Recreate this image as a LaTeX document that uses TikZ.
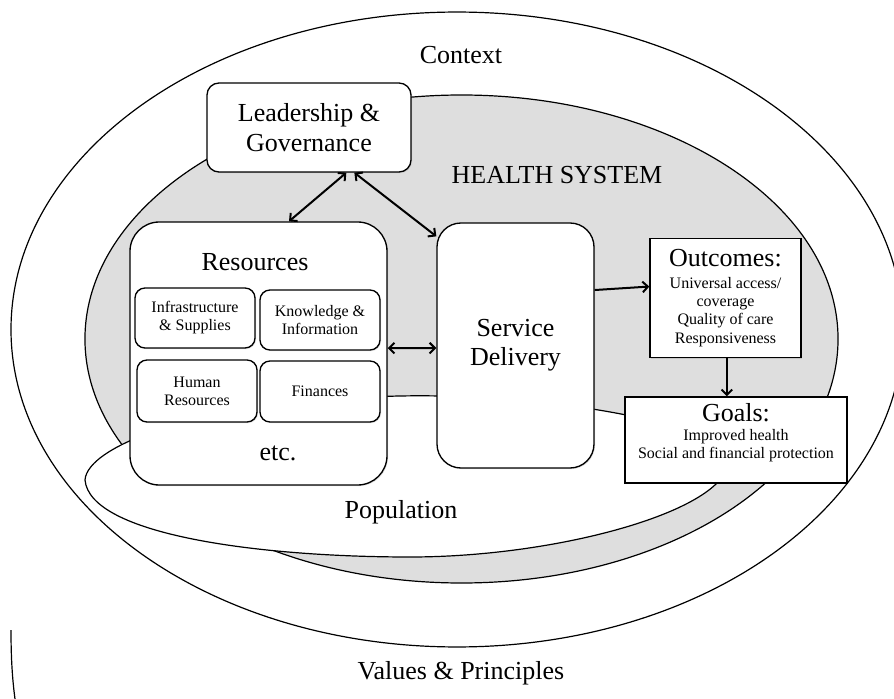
\documentclass[tikz,border=0pt]{standalone}
\usepackage{fontspec}
\setmainfont{Liberation Serif}
\usetikzlibrary{arrows.meta,shadows}

\begin{document}
\begin{tikzpicture}[x=0.75pt, y=-0.75pt, >={Straight Barb[length=4pt,width=8pt]}]
    \tikzstyle{bigfont} = [font=\fontsize{19.5}{22}\selectfont]
    \tikzstyle{smallfont} = [font=\fontsize{12}{13.5}\selectfont]
    \tikzstyle{roundbox} = [rectangle, draw, line width=1pt, fill=white, align=center, drop shadow={shadow xshift=0.8pt, shadow yshift=-0.8pt, opacity=0.25}]
    \tikzstyle{squarebox} = [rectangle, draw, line width=1pt, fill=white, align=center, inner sep=2pt, drop shadow={shadow xshift=0.8pt, shadow yshift=-0.8pt, opacity=0.25}]
    \tikzstyle{link} = [<->, line width=1.5pt]
    \tikzstyle{flow} = [->, line width=1.5pt]

    \useasboundingbox (0,0) rectangle (894,699);

    % Context and values
    \draw[line width=0.9pt, fill=white] (457,329.5) ellipse [x radius=334.5pt, y radius=238.1pt];
    \draw[line width=0.9pt] (11,630) .. controls (11,660) and (12.5,680) .. (15,699);
    \node[bigfont] (context) at (461,55) {Context};
    \node[bigfont] (values) at (461,673) {Values \& Principles};

    % Health system
    \draw[line width=0.9pt, fill=black!13] (461.5,339) ellipse [x radius=282.4pt, y radius=183pt];
    \node[bigfont] (hs) at (557,175) {HEALTH SYSTEM};

    % Population
    \draw[line width=0.9pt, fill=white] (85,480)
        .. controls (87,446) and (200,400) .. (400,396)
        .. controls (550,393) and (730,425) .. (728,462)
        .. controls (726,510) and (560,557) .. (410,557)
        .. controls (260,557) and (90,535) .. (85,480) -- cycle;
    \node[bigfont] (population) at (401,512) {Population};

    % Building blocks
    \node[roundbox, bigfont, rounded corners=9pt, minimum width=153pt, minimum height=66.75pt] (leader) at (309,127.5) {Leadership \&\\Governance};
    \node[roundbox, rounded corners=22pt, minimum width=192.75pt, minimum height=197.25pt] (resources) at (258.5,353.5) {};
    \node[bigfont] (res-title) at (255,262) {Resources};
    \node[bigfont] (res-etc) at (278,453) {etc.};
    \node[roundbox, smallfont, rounded corners=7.5pt, minimum width=90pt, minimum height=45pt] (infra) at (195,318) {Infrastructure\\\& Supplies};
    \node[roundbox, smallfont, rounded corners=7.5pt, minimum width=90pt, minimum height=45pt] (knowledge) at (320,320) {Knowledge \&\\Information};
    \node[roundbox, smallfont, rounded corners=7.5pt, minimum width=90pt, minimum height=46.5pt] (human) at (197,391) {Human\\Resources};
    \node[roundbox, smallfont, rounded corners=7.5pt, minimum width=90pt, minimum height=45.75pt] (finances) at (320,391.5) {Finances};
    \node[roundbox, bigfont, rounded corners=18pt, minimum width=117.75pt, minimum height=183.75pt] (service) at (515.5,345.5) {Service\\Delivery};

    % Outcomes and goals
    \node[squarebox, font=\fontsize{12}{13.8}\selectfont, minimum width=113.25pt, minimum height=89.25pt] (outcomes) at (725.5,298)
        {{\fontsize{19.5}{22}\selectfont Outcomes:}\\[2.5pt]
         Universal access/\\coverage\\Quality of care\\Responsiveness};
    \node[squarebox, minimum width=166.5pt, minimum height=64.5pt] (goals) at (736,440) {};
    \node[align=center, inner sep=0pt, font=\fontsize{12}{13.5}\selectfont] (goals-text) at (736,433)
        {{\fontsize{19.5}{22}\selectfont Goals:}\\[0.5pt]
         Improved health\\Social and financial protection};

    % Connections
    \draw[link] ([xshift=28pt]leader.south) -- ([xshift=22.9pt]resources.north);
    \draw[link] ([xshift=34pt]leader.south) -- ([yshift=-10.5pt]service.north west);
    \draw[link] ([yshift=4pt]resources.east) -- ([yshift=-1.9pt]service.west);
    \draw[flow] ([yshift=41.6pt]service.east) -- ([yshift=8.6pt]outcomes.west);
    \draw[flow] ([xshift=1pt]outcomes.south) -- ([xshift=1pt]outcomes.south |- goals.north);
\end{tikzpicture}
\end{document}
